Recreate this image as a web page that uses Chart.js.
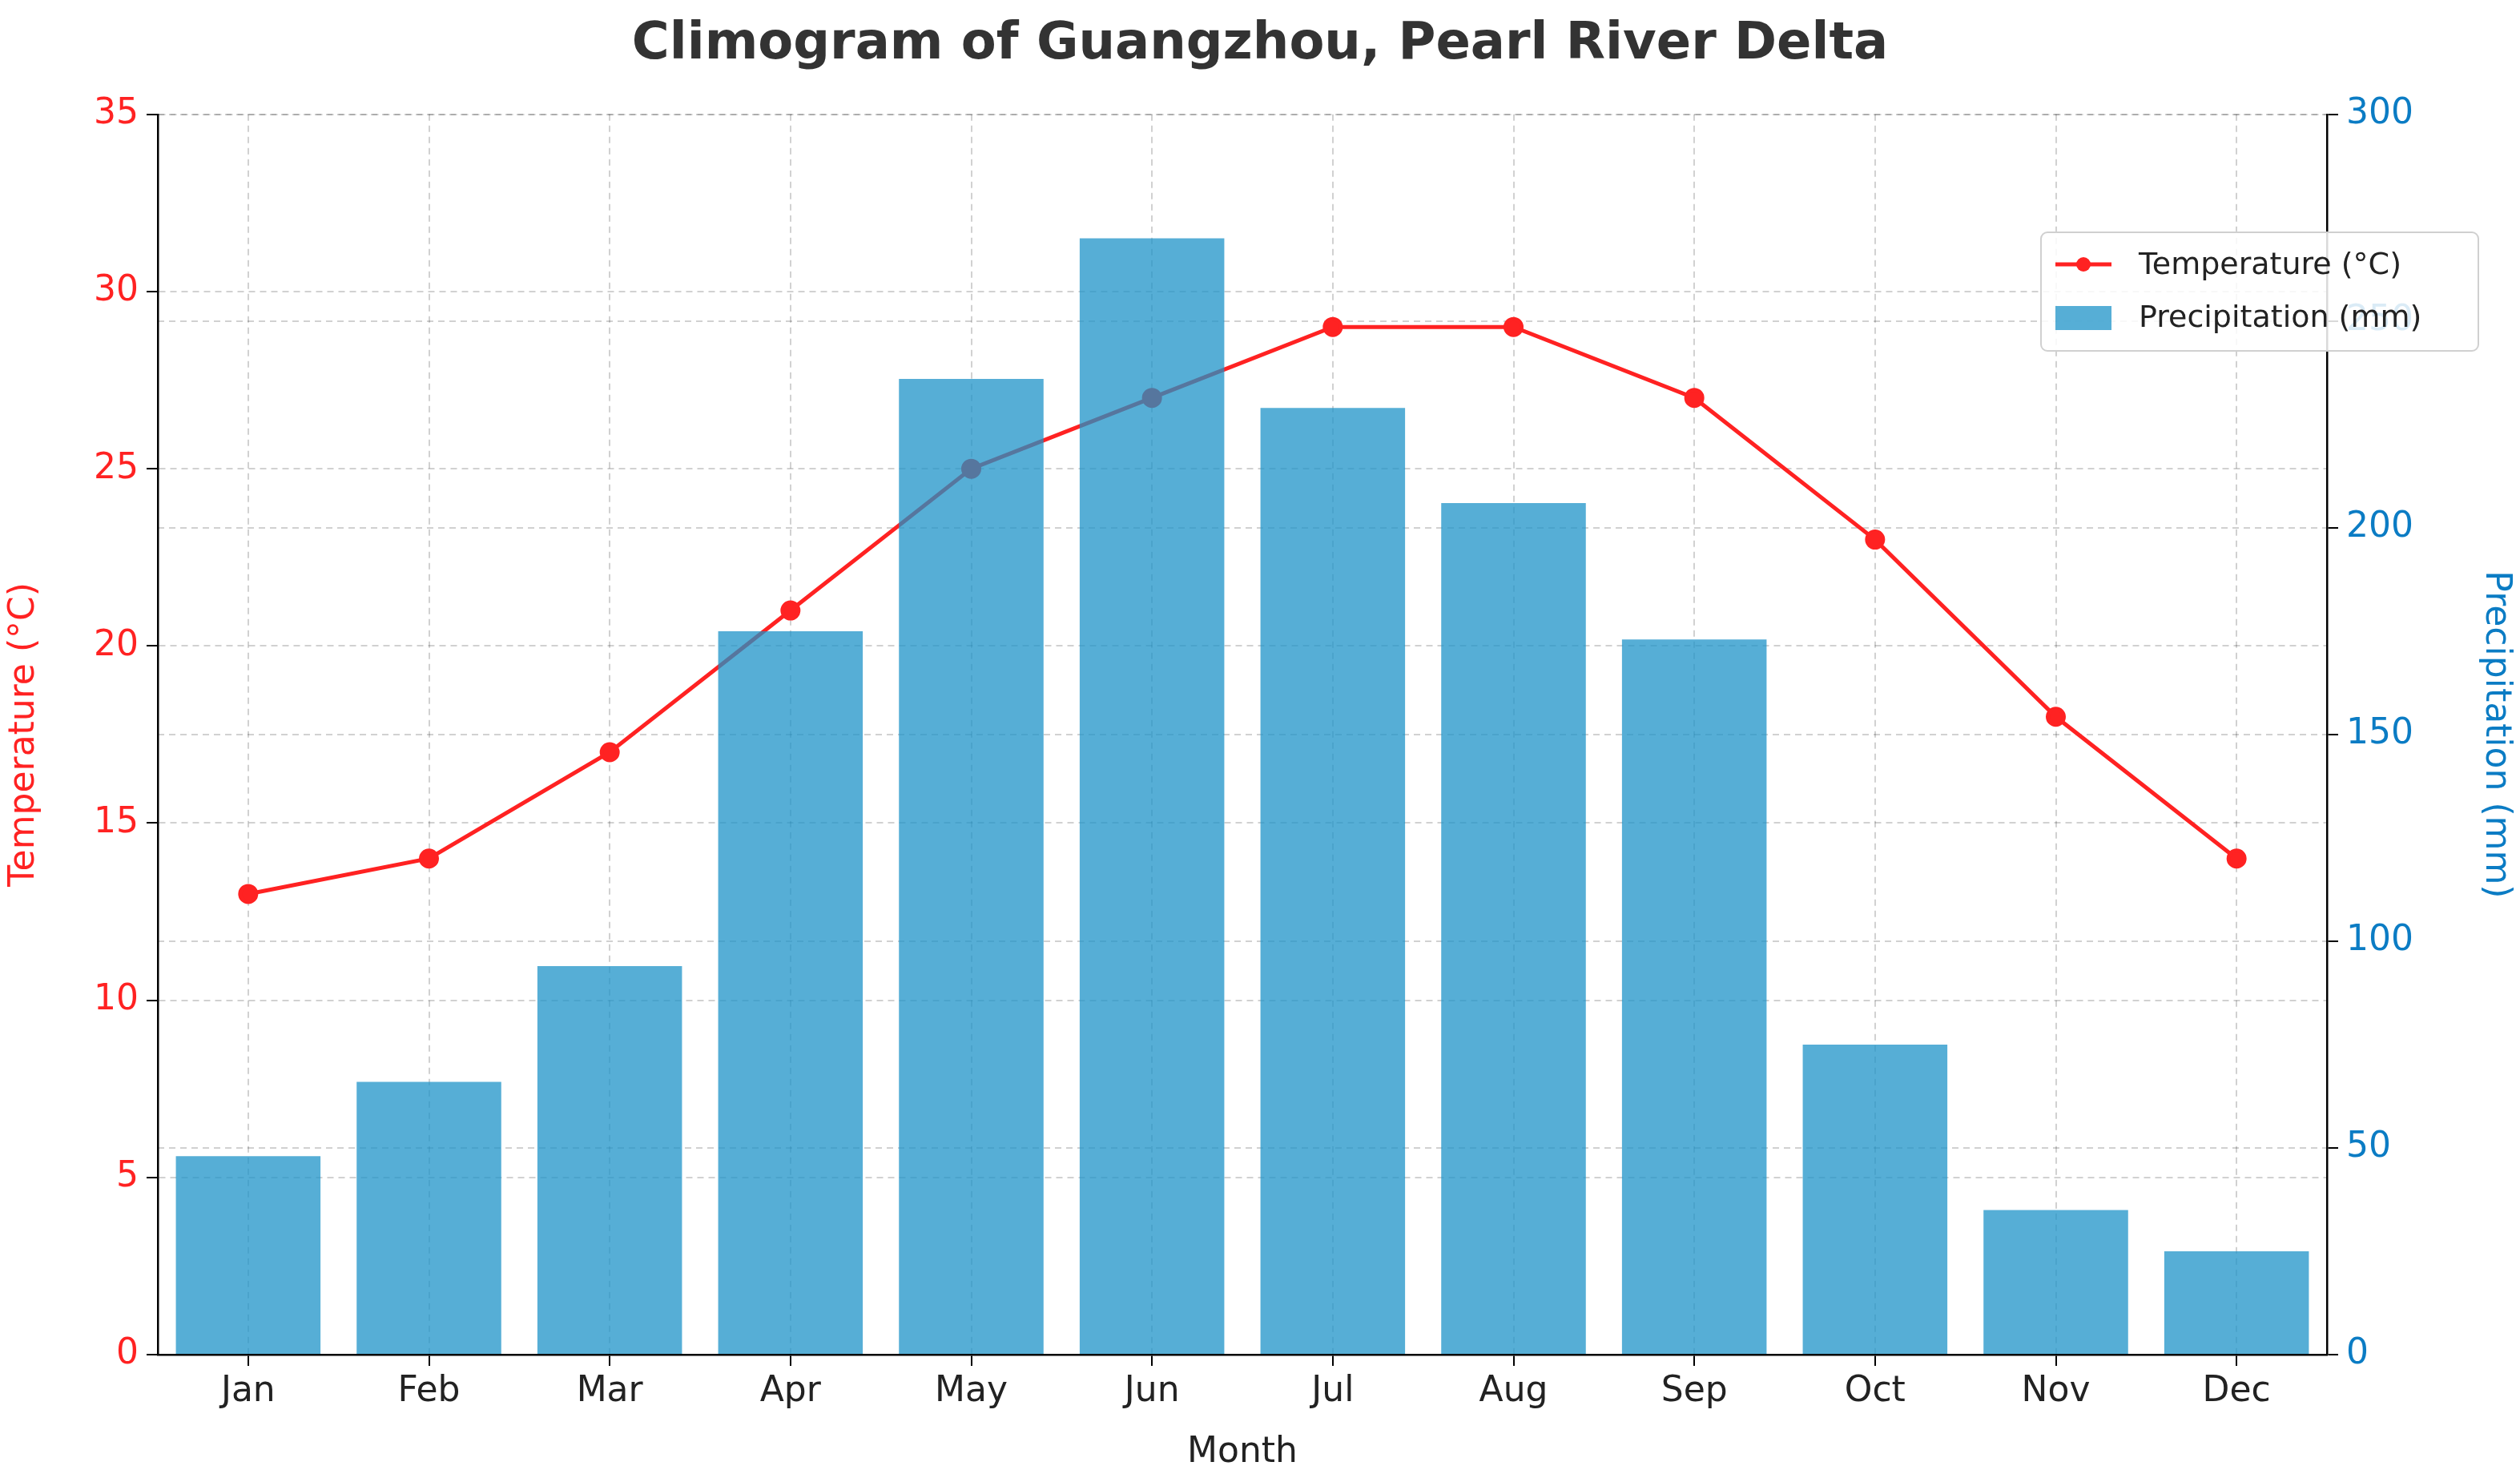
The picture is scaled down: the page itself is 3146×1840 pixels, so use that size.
<!DOCTYPE html>
<html>
<head>
<meta charset="utf-8">
<script src="https://cdn.jsdelivr.net/npm/chart.js@4/dist/chart.umd.min.js"></script>
<style>
  html, body { margin: 0; padding: 0; background: #fff; }
  canvas { display: block; }
</style>
</head>
<body>
<canvas id="clima" width="3146" height="1840"></canvas>
<script>
// =================== Datos ===================
const meses = ["Jan", "Feb", "Mar", "Apr", "May", "Jun", "Jul", "Aug", "Sep", "Oct", "Nov", "Dec"];
const temperatura = [13, 14, 17, 21, 25, 27, 29, 29, 27, 23, 18, 14];
const precipitacion = [48, 66, 94, 175, 236, 270, 229, 206, 173, 75, 35, 25];

const ROJO = "#ff2222";
const AZUL_TXT = "#0b7cc4";
const AZUL_BARRA = "rgba(29,147,200,0.75)";
const FUENTE = "'DejaVu Sans', sans-serif";

// leyenda dibujada a mano dentro del area (como en la figura original)
const leyendaPlugin = {
  id: "leyendaCaja",
  afterDraw(chart) {
    const c = chart.ctx;
    const x = 2548, y = 290, w = 546, h = 148;
    c.save();
    c.fillStyle = "rgba(255,255,255,0.85)";
    c.strokeStyle = "#d0d0d0";
    c.lineWidth = 2;
    c.beginPath();
    c.roundRect(x, y, w, h, 8);
    c.fill();
    c.stroke();
    c.font = "38px " + FUENTE;
    c.textBaseline = "middle";
    c.fillStyle = "#222";
    // linea de temperatura
    c.strokeStyle = ROJO;
    c.lineWidth = 5;
    c.beginPath();
    c.moveTo(x + 18, y + 40); c.lineTo(x + 88, y + 40); c.stroke();
    c.fillStyle = ROJO;
    c.beginPath(); c.arc(x + 53, y + 40, 9, 0, Math.PI * 2); c.fill();
    c.fillStyle = "#222";
    c.fillText(chart.data.datasets[0].label, x + 122, y + 42);
    // barra de precipitacion
    c.fillStyle = AZUL_BARRA;
    c.fillRect(x + 18, y + 92, 70, 30);
    c.fillStyle = "#222";
    c.fillText(chart.data.datasets[1].label, x + 122, y + 108);
    c.restore();
  }
};

const grilla = { color: "rgba(0,0,0,0.18)", lineWidth: 2, tickLength: 14, tickColor: "#000", tickWidth: 2 };

new Chart(document.getElementById("clima").getContext("2d"), {
  data: {
    labels: meses,
    datasets: [
      {
        type: "line", label: "Temperature (°C)", data: temperatura, yAxisID: "yT",
        borderColor: ROJO, backgroundColor: ROJO, borderWidth: 5,
        pointRadius: 10, pointBackgroundColor: ROJO, tension: 0, order: 2
      },
      {
        type: "bar", label: "Precipitation (mm)", data: precipitacion, yAxisID: "yP",
        backgroundColor: AZUL_BARRA, categoryPercentage: 1, barPercentage: 0.8, order: 1
      }
    ]
  },
  options: {
    responsive: false,
    devicePixelRatio: 1,
    animation: false,
    layout: { padding: { top: 0, right: 0, left: 0, bottom: 0 } },
    plugins: {
      legend: { display: false },
      tooltip: { enabled: false },
      title: {
        display: true, text: "Climogram of Guangzhou, Pearl River Delta",
        color: "#333", font: { family: FUENTE, size: 64 }, padding: { top: 18, bottom: 48 }
      }
    },
    scales: {
      x: {
        offset: true,
        grid: { ...grilla, offset: false, borderDash: [8, 6] },
        border: { color: "#000", width: 2.5, dash: [8, 6] },
        ticks: { color: "#222", font: { family: FUENTE, size: 44 }, padding: 6 },
        title: { display: true, text: "Month", color: "#222", font: { family: FUENTE, size: 44 }, padding: 0 },
        afterFit: (s) => { s.height = 149; }
      },
      yT: {
        position: "left", min: 0, max: 35,
        grid: { ...grilla },
        border: { color: "#000", width: 2.5, dash: [8, 6] },
        ticks: { stepSize: 5, color: ROJO, font: { family: FUENTE, size: 44 }, padding: 10 },
        title: { display: true, text: "Temperature (°C)", color: ROJO, font: { family: FUENTE, size: 44 }, padding: 4 },
        afterFit: (s) => { s.width = 197; }
      },
      yP: {
        position: "right", min: 0, max: 300,
        grid: { ...grilla },
        border: { color: "#000", width: 2.5, dash: [8, 6] },
        ticks: { stepSize: 50, color: AZUL_TXT, font: { family: FUENTE, size: 44 }, padding: 10 },
        title: { display: true, text: "Precipitation (mm)", color: AZUL_TXT, font: { family: FUENTE, size: 44 }, padding: 4 },
        afterFit: (s) => { s.width = 241; }
      }
    }
  },
  plugins: [leyendaPlugin]
});
</script>
</body>
</html>
